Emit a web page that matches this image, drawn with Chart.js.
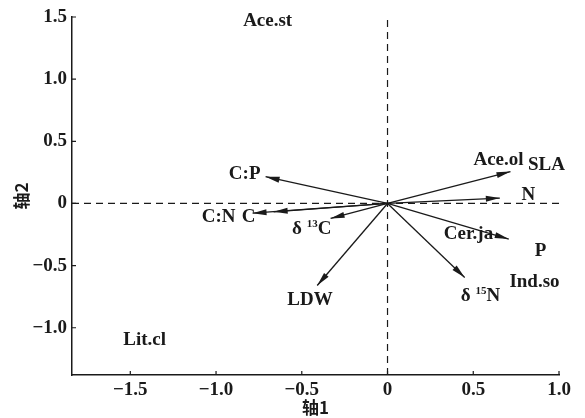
<!DOCTYPE html>
<html>
<head>
<meta charset="utf-8">
<script src="https://cdn.jsdelivr.net/npm/chart.js@4"></script>
<style>
	html, body { margin: 0; padding: 0; background: #fff; }
	#wrap { width: 585px; height: 418px; }
</style>
</head>
<body>
<div id="wrap"><canvas id="chart" width="585" height="418"></canvas></div>
<script>
// axis ticks
const xTicks = [-1.5, -1.0, -0.5, 0, 0.5, 1.0];
const yTicks = [-1.0, -0.5, 0, 0.5, 1.0, 1.5];
const xRange = [-1.84, 1.0];
const yRange = [-1.38, 1.5];

// trait vectors (arrows from origin)
const arrowNames = ['SLA', 'N', 'P', 'δ15N', 'LDW', 'δ13C', 'C', 'C:N', 'C:P'];
const arrowX = [0.717, 0.655, 0.707, 0.45, -0.41, -0.332, -0.787, -0.664, -0.711];
const arrowY = [0.257, 0.043, -0.286, -0.595, -0.66, -0.12, -0.078, -0.067, 0.215];
// where each trait name sits
const arrowLabelX = [0.927, 0.822, 0.892, 0.542, -0.452, -0.442, -0.81, -0.985, -0.833];
const arrowLabelY = [0.311, 0.07, -0.38, -0.742, -0.781, -0.203, -0.113, -0.113, 0.239];

// species scores
const siteNames = ['Ace.st', 'Ace.ol', 'Cer.ja', 'Ind.so', 'Lit.cl'];
const siteX = [-0.699, 0.647, 0.472, 0.857, -1.416];
const siteY = [1.469, 0.351, -0.244, -0.635, -1.096];

const SERIF = "'Liberation Serif', 'Times New Roman', serif";
const CJK = "'Noto Sans CJK SC', sans-serif";
const LABEL_SIZE = 19;

function fmtTick(v) {
	if (Math.abs(v) < 1e-9) return '0';
	var s = Math.abs(v).toFixed(1);
	return v < 0 ? '\u2212' + s : s;
}

function drawRichLabel(ctx, text, cx, cy) {
	// "δ15N" style: digits after δ shown as superscript
	var m = /^δ(\d+)(.*)$/.exec(text);
	if (!m) {
		ctx.font = 'bold ' + LABEL_SIZE + 'px ' + SERIF;
		ctx.textAlign = 'center';
		ctx.fillText(text, cx, cy);
		return;
	}
	var parts = [
		{t: 'δ ', f: 'bold ' + LABEL_SIZE + 'px ' + SERIF, dy: 0},
		{t: m[1], f: 'bold 11px ' + SERIF, dy: -5},
		{t: m[2], f: 'bold ' + LABEL_SIZE + 'px ' + SERIF, dy: 0},
	];
	var total = 0;
	parts.forEach((p) => { ctx.font = p.f; p.w = ctx.measureText(p.t).width; total += p.w; });
	var x = cx - total / 2;
	ctx.textAlign = 'left';
	parts.forEach((p) => {
		ctx.font = p.f;
		ctx.fillText(p.t, x, cy + p.dy);
		x += p.w;
	});
}

const biplotExtras = {
	id: 'biplotExtras',
	afterDatasetsDraw(chart) {
		const {ctx, scales: {x, y}, chartArea} = chart;
		ctx.save();
		ctx.fillStyle = '#1a1a1a';
		ctx.strokeStyle = '#1a1a1a';

		// inward tick marks
		ctx.lineWidth = 1.2;
		ctx.beginPath();
		xTicks.forEach((v) => {
			var px = x.getPixelForValue(v);
			ctx.moveTo(px, chartArea.bottom);
			ctx.lineTo(px, chartArea.bottom - 4);
		});
		yTicks.forEach((v) => {
			var py = y.getPixelForValue(v);
			ctx.moveTo(chartArea.left, py);
			ctx.lineTo(chartArea.left + 4, py);
		});
		ctx.stroke();

		// arrow heads
		var ox = x.getPixelForValue(0), oy = y.getPixelForValue(0);
		for (let i = 0; i < arrowNames.length; i++) {
			var tx = x.getPixelForValue(arrowX[i]), ty = y.getPixelForValue(arrowY[i]);
			var ang = Math.atan2(ty - oy, tx - ox);
			var len = 14, half = 3;
			var bx = tx - len * Math.cos(ang), by = ty - len * Math.sin(ang);
			ctx.beginPath();
			ctx.moveTo(tx, ty);
			ctx.lineTo(bx + half * Math.sin(ang), by - half * Math.cos(ang));
			ctx.lineTo(bx - half * Math.sin(ang), by + half * Math.cos(ang));
			ctx.closePath();
			ctx.fill();
		}

		// labels
		ctx.textBaseline = 'middle';
		for (let i = 0; i < arrowNames.length; i++) {
			drawRichLabel(ctx, arrowNames[i], x.getPixelForValue(arrowLabelX[i]), y.getPixelForValue(arrowLabelY[i]));
		}
		for (let i = 0; i < siteNames.length; i++) {
			drawRichLabel(ctx, siteNames[i], x.getPixelForValue(siteX[i]), y.getPixelForValue(siteY[i]));
		}
		ctx.restore();
	}
};

function prepareData() {
	var datasets = [];
	// dashed reference lines through origin
	datasets.push({
		data: [{x: xRange[0], y: 0}, {x: xTicks[xTicks.length - 1], y: 0}],
		borderColor: '#1a1a1a', borderWidth: 1.2, borderDash: [7, 5],
	});
	datasets.push({
		data: [{x: 0, y: yRange[0]}, {x: 0, y: yRange[1]}],
		borderColor: '#1a1a1a', borderWidth: 1.2, borderDash: [7, 5],
	});
	for (let i = 0; i < arrowNames.length; i++) {
		datasets.push({
			label: arrowNames[i],
			data: [{x: 0, y: 0}, {x: arrowX[i], y: arrowY[i]}],
			borderColor: '#1a1a1a',
			borderWidth: 1.3,
		});
	}
	return {datasets: datasets};
}

function createChart(ctx) {
	return new Chart(ctx, {
		type: 'scatter',
		data: prepareData(),
		options: {
			responsive: false,
			animation: false,
			showLine: true,
			elements: {
				point: { radius: 0, hoverRadius: 0 },
				line: { tension: 0 },
			},
			layout: {
				padding: { left: 0, right: 26, top: 17, bottom: 0 },
			},
			scales: {
				x: {
					type: 'linear',
					min: xRange[0],
					max: xRange[1],
					afterBuildTicks(scale) { scale.ticks = xTicks.map((v) => ({value: v})); },
					afterFit(scale) { scale.height = 43; },
					grid: { display: false, drawTicks: false },
					border: { display: true, color: '#1a1a1a', width: 1.5 },
					ticks: {
						padding: 4,
						color: '#1a1a1a',
						font: { family: SERIF, size: 19, weight: 'bold' },
						callback: (v) => fmtTick(v),
						maxRotation: 0,
					},
					title: {
						display: true,
						text: '轴1',
						color: '#1a1a1a',
						font: { family: CJK, size: 17, weight: 'bold' },
						padding: { top: 0, bottom: 0 },
					},
				},
				y: {
					type: 'linear',
					min: yRange[0],
					max: yRange[1],
					afterBuildTicks(scale) { scale.ticks = yTicks.map((v) => ({value: v})); },
					afterFit(scale) { scale.width = 72; },
					grid: { display: false, drawTicks: false },
					border: { display: true, color: '#1a1a1a', width: 1.5 },
					ticks: {
						padding: 5,
						color: '#1a1a1a',
						font: { family: SERIF, size: 19, weight: 'bold' },
						callback: (v) => fmtTick(v),
					},
					title: {
						display: true,
						text: '轴2',
						color: '#1a1a1a',
						font: { family: CJK, size: 17, weight: 'bold' },
						padding: { top: 11, bottom: 0 },
					},
				},
			},
			plugins: {
				legend: { display: false },
				tooltip: { enabled: false },
			},
		},
		plugins: [biplotExtras],
	});
}

var chart = createChart(document.getElementById('chart').getContext('2d'));
</script>
</body>
</html>
